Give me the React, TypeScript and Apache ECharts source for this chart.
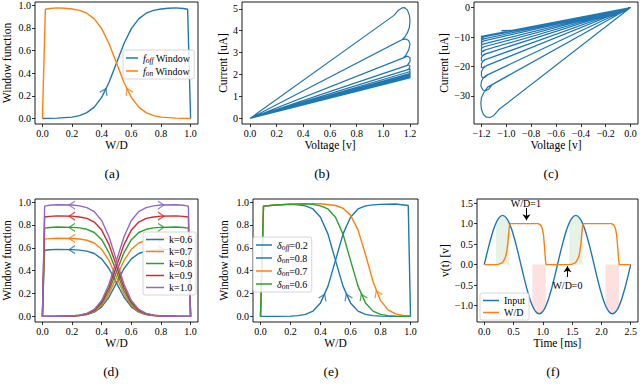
import React, { useEffect, useRef } from 'react';
import * as echarts from 'echarts';

const FONT = '"Liberation Serif", "DejaVu Serif", serif';
const BLUE = '#1f77b4';
const ORANGE = '#ff7f0e';
const GREEN = '#2ca02c';
const RED = '#d62728';
const PURPLE = '#9467bd';

// ---------- tick values ----------
const T01 = [0, 0.2, 0.4, 0.6, 0.8, 1.0];
const TB = [0, 0.2, 0.4, 0.6, 0.8, 1.0, 1.2];
const TC = [-1.2, -1.0, -0.8, -0.6, -0.4, -0.2, 0];
const TF = [0, 0.5, 1, 1.5, 2, 2.5];
const YB = [0, 1, 2, 3, 4, 5];
const YC = [-30, -20, -10, 0];
const YF = [-1, -0.5, 0, 0.5, 1, 1.5];

// ---------- (a) ----------
const aOffX = [0, 0.1, 0.2, 0.25, 0.3, 0.35, 0.4, 0.45, 0.5, 0.55, 0.6, 0.65, 0.7, 0.75, 0.8, 0.85, 0.9, 0.95, 0.98, 1.0];
const aOffY = [0, 0.003, 0.012, 0.025, 0.051, 0.1, 0.186, 0.32, 0.49, 0.66, 0.794, 0.88, 0.93, 0.955, 0.967, 0.974, 0.977, 0.972, 0.965, 0];
const aOnX = [0, 0.02, 0.05, 0.1, 0.15, 0.2, 0.25, 0.3, 0.35, 0.4, 0.45, 0.5, 0.55, 0.6, 0.65, 0.7, 0.75, 0.8, 0.9, 1.0];
const aOnY = [0, 0.965, 0.972, 0.977, 0.974, 0.967, 0.955, 0.93, 0.88, 0.794, 0.66, 0.49, 0.32, 0.186, 0.1, 0.051, 0.025, 0.012, 0.003, 0];
const aArrowX = [0.42, 0.58];
const aArrowY = [0.24, 0.24];

// ---------- (b) positive I-V loops ----------
const ivPos = [
  [0, 0], [1.08, 4.7], [1.11, 4.92], [1.14, 5.04], [1.16, 5.05], [1.18, 4.95], [1.195, 4.72], [1.2, 4.45], [1.195, 4.15], [1.18, 3.9], [1.16, 3.7], [1.14, 3.59], [0, 0],
  [1.12, 3.53], [1.15, 3.61], [1.17, 3.62], [1.19, 3.55], [1.2, 3.38], [1.19, 3.12], [1.17, 2.9], [1.15, 2.76], [0, 0],
  [1.15, 2.76], [1.18, 2.84], [1.2, 2.78], [1.2, 2.6], [1.18, 2.42], [0, 0],
  [1.17, 2.4], [1.19, 2.44], [1.2, 2.38], [1.19, 2.24], [0, 0],
  [1.18, 2.22], [1.2, 2.25], [1.2, 2.17], [1.19, 2.12], [0, 0],
  [1.19, 2.12], [1.2, 2.14], [1.2, 2.07], [1.19, 2.03], [0, 0],
  [1.19, 2.03], [1.2, 2.06], [1.2, 2.0], [1.19, 1.98], [0, 0],
  [1.19, 1.98], [1.2, 2.0], [1.2, 1.95], [1.19, 1.93], [0, 0],
  [1.19, 1.93], [1.2, 1.95], [1.2, 1.9], [1.19, 1.88], [0, 0],
  [1.19, 1.88], [1.2, 1.9], [1.2, 1.86], [1.19, 1.84], [0, 0],
];

// ---------- (c) negative I-V loops ----------
const ivNeg = [
  [0, 0], [-1.06, -34.6], [-1.1, -36.6], [-1.13, -37.3], [-1.16, -37.2], [-1.185, -36.2], [-1.2, -34.5], [-1.205, -32.5], [-1.2, -30.5], [-1.18, -28.8], [-1.15, -27.0], [0, 0],
  [-1.11, -26.0], [-1.14, -27.6], [-1.17, -28.3], [-1.19, -27.9], [-1.205, -26.6], [-1.2, -25.0], [-1.18, -23.6], [-1.16, -23.0], [0, 0],
  [-1.15, -22.8], [-1.17, -23.6], [-1.19, -23.9], [-1.2, -23.2], [-1.2, -21.8], [-1.18, -20.1], [0, 0],
  [-1.16, -19.7], [-1.18, -20.4], [-1.2, -20.4], [-1.2, -19.0], [-1.18, -17.8], [0, 0],
  [-1.17, -17.7], [-1.19, -18.3], [-1.2, -17.9], [-1.2, -16.9], [-1.18, -15.9], [0, 0],
  [-1.17, -15.8], [-1.19, -16.4], [-1.2, -16.0], [-1.2, -15.1], [-1.18, -14.5], [0, 0],
  [-1.17, -14.4], [-1.19, -15.0], [-1.2, -14.6], [-1.2, -13.8], [-1.18, -13.3], [0, 0],
  [-1.18, -13.3], [-1.19, -13.7], [-1.2, -13.4], [-1.2, -12.7], [-1.18, -12.3], [0, 0],
  [-1.18, -12.3], [-1.19, -12.6], [-1.2, -12.3], [-1.2, -11.7], [-1.18, -11.3], [0, 0],
  [-1.18, -11.3], [-1.19, -11.7], [-1.2, -11.4], [-1.2, -10.9], [-1.18, -10.6], [0, 0],
  [-1.18, -10.6], [-1.19, -10.9], [-1.2, -10.7], [-1.2, -10.2], [-1.18, -10.0], [0, 0],
  [-1.18, -10.0], [-1.19, -10.3], [-1.2, -10.1], [-1.2, -9.7], [-1.18, -9.6], [0, 0],
  [-0.94, -7.7], [-1.04, -7.8],
];

// ---------- (d) ----------
const dOnX = [0, 0.015, 0.05, 0.1, 0.2, 0.25, 0.3, 0.35, 0.4, 0.45, 0.5, 0.55, 0.6, 0.65, 0.7, 0.75, 0.8, 0.9, 1.0];
const dOffX = [0, 0.1, 0.2, 0.25, 0.3, 0.35, 0.4, 0.45, 0.5, 0.55, 0.6, 0.65, 0.7, 0.75, 0.8, 0.9, 0.95, 0.985, 1.0];
const dOn06 = [0, 0.579, 0.583, 0.586, 0.584, 0.58, 0.571, 0.55, 0.503, 0.417, 0.293, 0.17, 0.083, 0.037, 0.016, 0.007, 0.002, 0.001, 0];
const dOn07 = [0, 0.676, 0.68, 0.684, 0.682, 0.677, 0.666, 0.642, 0.587, 0.487, 0.342, 0.198, 0.097, 0.043, 0.018, 0.008, 0.003, 0.001, 0];
const dOn08 = [0, 0.772, 0.778, 0.782, 0.779, 0.774, 0.762, 0.734, 0.671, 0.556, 0.391, 0.226, 0.111, 0.049, 0.021, 0.009, 0.003, 0.001, 0];
const dOn09 = [0, 0.869, 0.875, 0.879, 0.877, 0.87, 0.857, 0.825, 0.755, 0.626, 0.44, 0.255, 0.125, 0.055, 0.023, 0.01, 0.004, 0.001, 0];
const dOn10 = [0, 0.965, 0.972, 0.977, 0.974, 0.967, 0.952, 0.917, 0.839, 0.695, 0.489, 0.283, 0.139, 0.061, 0.026, 0.011, 0.004, 0.001, 0];
const dOff06 = [0, 0.001, 0.002, 0.007, 0.016, 0.037, 0.083, 0.17, 0.293, 0.417, 0.503, 0.55, 0.571, 0.58, 0.584, 0.586, 0.583, 0.579, 0];
const dOff07 = [0, 0.001, 0.003, 0.008, 0.018, 0.043, 0.097, 0.198, 0.342, 0.487, 0.587, 0.642, 0.666, 0.677, 0.682, 0.684, 0.68, 0.676, 0];
const dOff08 = [0, 0.001, 0.003, 0.009, 0.021, 0.049, 0.111, 0.226, 0.391, 0.556, 0.671, 0.734, 0.762, 0.774, 0.779, 0.782, 0.778, 0.772, 0];
const dOff09 = [0, 0.001, 0.004, 0.01, 0.023, 0.055, 0.125, 0.255, 0.44, 0.626, 0.755, 0.825, 0.857, 0.87, 0.877, 0.879, 0.875, 0.869, 0];
const dOff10 = [0, 0.001, 0.004, 0.011, 0.026, 0.061, 0.139, 0.283, 0.489, 0.695, 0.839, 0.917, 0.952, 0.967, 0.974, 0.977, 0.972, 0.965, 0];
const dArrowOnX = 0.2;
const dArrowOffX = 0.8;
const dArrowY = [0.584, 0.682, 0.779, 0.877, 0.974];

// ---------- (e) ----------
const eOffX = [0, 0.1, 0.2, 0.25, 0.3, 0.35, 0.4, 0.45, 0.5, 0.55, 0.6, 0.65, 0.7, 0.75, 0.8, 0.9, 0.985, 1.0];
const eOffY = [0, 0.0003, 0.0025, 0.0067, 0.018, 0.047, 0.118, 0.265, 0.49, 0.72, 0.867, 0.94, 0.967, 0.976, 0.98, 0.983, 0.97, 0];
const eOn8X = [0, 0.02, 0.1, 0.2, 0.25, 0.3, 0.35, 0.4, 0.45, 0.5, 0.55, 0.6, 0.65, 0.7, 0.75, 0.8, 0.9, 1.0];
const eOn8Y = [0, 0.965, 0.975, 0.98, 0.976, 0.967, 0.94, 0.867, 0.72, 0.49, 0.265, 0.118, 0.046, 0.018, 0.0067, 0.0025, 0.0003, 0];
const eOn7X = [0, 0.02, 0.1, 0.2, 0.3, 0.4, 0.5, 0.55, 0.6, 0.65, 0.7, 0.75, 0.8, 0.85, 0.9, 0.95, 1.0];
const eOn7Y = [0, 0.965, 0.975, 0.982, 0.985, 0.985, 0.97, 0.946, 0.886, 0.757, 0.54, 0.305, 0.14, 0.057, 0.022, 0.008, 0.003];
const eOn6X = [0, 0.02, 0.1, 0.2, 0.3, 0.35, 0.4, 0.45, 0.5, 0.55, 0.6, 0.65, 0.7, 0.75, 0.8, 0.85, 0.9, 1.0];
const eOn6Y = [0, 0.965, 0.975, 0.982, 0.984, 0.98, 0.967, 0.94, 0.867, 0.72, 0.49, 0.265, 0.118, 0.046, 0.018, 0.0067, 0.0025, 0.0003];
const eArrowX = [0.42, 0.58, 0.68, 0.78];
const eArrowY = [0.17, 0.17, 0.17, 0.2];

// ---------- (f) ----------
const sineT = [0, 0.0625, 0.125, 0.1875, 0.25, 0.3125, 0.375, 0.4375, 0.5, 0.5625, 0.625, 0.6875, 0.75, 0.8125, 0.875, 0.9375, 1.0, 1.0625, 1.125, 1.1875, 1.25,
  1.3125, 1.375, 1.4375, 1.5, 1.5625, 1.625, 1.6875, 1.75, 1.8125, 1.875, 1.9375, 2.0, 2.0625, 2.125, 2.1875, 2.25, 2.3125, 2.375, 2.4375, 2.5];
const sineV = [0, 0.371, 0.705, 0.971, 1.141, 1.2, 1.141, 0.971, 0.705, 0.371, 0, -0.371, -0.705, -0.971, -1.141, -1.2, -1.141, -0.971, -0.705, -0.371, 0,
  0.371, 0.705, 0.971, 1.141, 1.2, 1.141, 0.971, 0.705, 0.371, 0, -0.371, -0.705, -0.971, -1.141, -1.2, -1.141, -0.971, -0.705, -0.371, 0];
const wdT = [0, 0.2, 0.25, 0.3, 0.33, 0.36, 0.38, 0.4, 0.415, 0.43, 0.45, 0.92, 0.96, 0.99, 1.01, 1.03, 1.045, 1.055,
  1.45, 1.5, 1.55, 1.58, 1.61, 1.63, 1.65, 1.665, 1.68, 1.7, 2.17, 2.21, 2.24, 2.26, 2.28, 2.295, 2.305, 2.5];
const wdV = [0, 0, 0.01, 0.04, 0.09, 0.18, 0.3, 0.5, 0.75, 0.95, 1.0, 1.0, 0.97, 0.88, 0.73, 0.4, 0.1, 0,
  0, 0.01, 0.04, 0.09, 0.18, 0.3, 0.5, 0.75, 0.95, 1.0, 1.0, 0.97, 0.88, 0.73, 0.4, 0.1, 0, 0];
const green1T = [0.2, 0.25, 0.3, 0.3125, 0.35, 0.4, 0.43];
const green1V = [1.013, 1.141, 1.198, 1.2, 1.179, 1.086, 0.997];
const green2T = [1.45, 1.5, 1.55, 1.5625, 1.6, 1.65, 1.68];
const green2V = [1.013, 1.141, 1.198, 1.2, 1.179, 1.086, 0.997];
const pink1T = [0.82, 0.85, 0.9, 0.9375, 0.95, 1.0, 1.05];
const pink1V = [-0.993, -1.086, -1.179, -1.2, -1.198, -1.141, -1.013];
const pink2T = [2.07, 2.1, 2.15, 2.1875, 2.2, 2.25, 2.3];
const pink2V = [-0.993, -1.086, -1.179, -1.2, -1.198, -1.141, -1.013];
const annoWD1 = [0.71, 1.48];
const annoWD0 = [1.42, -0.52];
const arrowWD1 = [[0.72, 1.38], [0.72, 1.08]];
const arrowWD0 = [[1.42, -0.3], [1.42, -0.04]];

const pairs = (xs: number[], ys: number[]) => xs.map((x, i) => [x, ys[i]]);
const fmt1 = (v: number) => v.toFixed(1).replace('-', '\u2212');
const fmt0 = (v: number) => String(v).replace('-', '\u2212');
const CHEV = 'path://M0,10 L6,0 L12,10';

function mkAxis(gi: number, min: number, max: number, ticks: number[], fmt: (v: number) => string, name: string, gap: number) {
  return {
    type: 'value', gridIndex: gi, min, max, name, nameLocation: 'middle', nameGap: gap,
    nameTextStyle: { fontFamily: FONT, fontSize: 11.5, color: '#000' },
    axisLine: { show: false, onZero: false },
    splitLine: { show: false },
    axisTick: { show: true, inside: false, length: 3, customValues: ticks, lineStyle: { color: '#000', width: 0.8 } },
    axisLabel: { show: true, customValues: ticks, formatter: fmt, fontFamily: FONT, fontSize: 10, color: '#000', margin: 4 },
  };
}

function line(gi: number, name: string, color: string, data: number[][], extra: any = {}) {
  return {
    type: 'line', name, xAxisIndex: gi, yAxisIndex: gi, data, color,
    symbol: 'none', showSymbol: false, lineStyle: { width: 1.4, color }, silent: true, z: 3, ...extra,
  };
}

function arrows(gi: number, items: { v: number[]; rot: number; c: string }[]) {
  return {
    type: 'scatter', xAxisIndex: gi, yAxisIndex: gi, symbol: CHEV, symbolSize: [8, 6], silent: true, z: 4,
    itemStyle: { color: 'transparent', borderWidth: 1.2 },
    data: items.map((it) => ({ value: it.v, symbolRotate: it.rot, itemStyle: { color: 'transparent', borderColor: it.c, borderWidth: 1.2 } })),
  };
}

function shade(data: number[][], color: string) {
  return {
    type: 'line', xAxisIndex: 5, yAxisIndex: 5, data, symbol: 'none', showSymbol: false, silent: true, z: 1,
    lineStyle: { width: 0, opacity: 0 }, areaStyle: { color, origin: 'auto', opacity: 1 },
  };
}

const RICH = {
  i: { fontStyle: 'italic', fontFamily: FONT, fontSize: 10, lineHeight: 11, color: '#000' },
  s: { fontStyle: 'italic', fontFamily: FONT, fontSize: 7.5, lineHeight: 11, padding: [4, 0, 0, 0], color: '#000' },
};
const LABELS: Record<string, string> = {
  'f_off Window': '{i|f}{s|off} Window',
  'f_on Window': '{i|f}{s|on} Window',
  'doff=0.2': '{i|\u03b4}{s|off}=0.2',
  'don=0.8': '{i|\u03b4}{s|on}=0.8',
  'don=0.7': '{i|\u03b4}{s|on}=0.7',
  'don=0.6': '{i|\u03b4}{s|on}=0.6',
};

function legend(data: string[], left: number, top: number, itemWidth: number) {
  return {
    data, left, top, orient: 'vertical', icon: 'rect', itemWidth, itemHeight: 1.5, itemGap: 1, itemTextGap: 6,
    padding: [2, 4, 2, 3], backgroundColor: 'rgba(255,255,255,0.85)', borderColor: '#cccccc', borderWidth: 0.8, borderRadius: 2,
    selectedMode: false, z: 10,
    formatter: (n: string) => LABELS[n] || n,
    textStyle: { fontFamily: FONT, fontSize: 10, color: '#000', lineHeight: 11, rich: RICH },
  };
}

function buildOption(): any {
  const grids = [
    { left: 32, top: 2, width: 166, height: 122 },
    { left: 242, top: 2, width: 176, height: 122 },
    { left: 474, top: 2, width: 164, height: 122 },
    { left: 32, top: 199, width: 166, height: 123 },
    { left: 253, top: 199, width: 165, height: 123 },
    { left: 477, top: 199, width: 161, height: 123 },
  ].map((g) => ({ ...g, show: true, borderColor: '#000', borderWidth: 0.9, backgroundColor: 'transparent', containLabel: false }));

  const xAxis = [
    mkAxis(0, -0.05, 1.05, T01, fmt1, 'W/D', 15),
    mkAxis(1, -0.06, 1.26, TB, fmt1, 'Voltage [v]', 15),
    mkAxis(2, -1.26, 0.06, TC, fmt1, 'Voltage [v]', 15),
    mkAxis(3, -0.05, 1.05, T01, fmt1, 'W/D', 15),
    mkAxis(4, -0.05, 1.05, T01, fmt1, 'W/D', 15),
    mkAxis(5, -0.125, 2.625, TF, fmt1, 'Time [ms]', 15),
  ];
  const yAxis = [
    mkAxis(0, -0.049, 1.029, T01, fmt1, 'Window function', 22),
    mkAxis(1, -0.253, 5.31, YB, fmt0, 'Current [uA]', 12),
    mkAxis(2, -39.5, 1.88, YC, fmt0, 'Current [uA]', 23),
    mkAxis(3, -0.049, 1.027, T01, fmt1, 'Window function', 22),
    mkAxis(4, -0.049, 1.027, T01, fmt1, 'Window function', 23),
    mkAxis(5, -1.4, 1.6, YF, fmt1, 'v(t) [v]', 25),
  ];

  const dCols = [BLUE, ORANGE, GREEN, RED, PURPLE];
  const dNames = ['k=0.6', 'k=0.7', 'k=0.8', 'k=0.9', 'k=1.0'];
  const dOns = [dOn06, dOn07, dOn08, dOn09, dOn10];
  const dOffs = [dOff06, dOff07, dOff08, dOff09, dOff10];

  const series: any[] = [
    line(0, 'f_off Window', BLUE, pairs(aOffX, aOffY)),
    line(0, 'f_on Window', ORANGE, pairs(aOnX, aOnY)),
    arrows(0, [
      { v: [aArrowX[0], aArrowY[0]], rot: -26, c: BLUE },
      { v: [aArrowX[1], aArrowY[1]], rot: 26, c: ORANGE },
    ]),
    line(1, 'iv+', BLUE, ivPos, { lineStyle: { width: 1.2, color: BLUE } }),
    line(2, 'iv-', BLUE, ivNeg, { lineStyle: { width: 1.2, color: BLUE } }),
  ];
  for (let i = 0; i < 5; i++) {
    series.push(line(3, dNames[i], dCols[i], pairs(dOffX, dOffs[i])));
    series.push(line(3, dNames[i], dCols[i], pairs(dOnX, dOns[i])));
  }
  series.push(arrows(3, dArrowY.flatMap((y, i) => [
    { v: [dArrowOnX, y], rot: 90, c: dCols[i] },
    { v: [dArrowOffX, y], rot: -90, c: dCols[i] },
  ])));
  series.push(line(4, 'doff=0.2', BLUE, pairs(eOffX, eOffY)));
  series.push(line(4, 'don=0.8', BLUE, pairs(eOn8X, eOn8Y)));
  series.push(line(4, 'don=0.7', ORANGE, pairs(eOn7X, eOn7Y)));
  series.push(line(4, 'don=0.6', GREEN, pairs(eOn6X, eOn6Y)));
  series.push(arrows(4, [
    { v: [eArrowX[0], eArrowY[0]], rot: -25, c: BLUE },
    { v: [eArrowX[1], eArrowY[1]], rot: 25, c: BLUE },
    { v: [eArrowX[2], eArrowY[2]], rot: 25, c: GREEN },
    { v: [eArrowX[3], eArrowY[3]], rot: 25, c: ORANGE },
  ]));
  series.push(shade(pairs(green1T, green1V), 'rgba(0,128,0,0.1)'));
  series.push(shade(pairs(green2T, green2V), 'rgba(0,128,0,0.1)'));
  series.push(shade(pairs(pink1T, pink1V), 'rgba(255,0,0,0.12)'));
  series.push(shade(pairs(pink2T, pink2V), 'rgba(255,0,0,0.12)'));
  series.push(line(5, 'Input', BLUE, pairs(sineT, sineV), { smooth: true }));
  series.push(line(5, 'W/D', ORANGE, pairs(wdT, wdV), {
    markLine: {
      silent: true, symbol: ['none', 'arrow'], symbolSize: 6, animation: false,
      lineStyle: { color: '#000', width: 1, type: 'solid' }, label: { show: false },
      data: [
        [{ coord: arrowWD1[0] }, { coord: arrowWD1[1] }],
        [{ coord: arrowWD0[0] }, { coord: arrowWD0[1] }],
      ],
    },
    markPoint: {
      silent: true, symbol: 'circle', symbolSize: 1, itemStyle: { color: 'rgba(0,0,0,0)' }, animation: false,
      label: { show: true, position: 'inside', formatter: (p: any) => p.name, fontFamily: FONT, fontSize: 10, color: '#000' },
      data: [
        { name: 'W/D=1', coord: annoWD1 },
        { name: 'W/D=0', coord: annoWD0 },
      ],
    },
  }));

  const caption = (text: string, x: number, y: number) => ({
    type: 'text', x, y, silent: true,
    style: { text, fontFamily: FONT, fontSize: 13.5, fill: '#000', align: 'center', verticalAlign: 'middle' },
  });

  return {
    animation: false,
    backgroundColor: '#fff',
    grid: grids,
    xAxis,
    yAxis,
    legend: [
      legend(['f_off Window', 'f_on Window'], 123, 50, 12),
      legend(dNames, 143, 232, 18),
      legend(['doff=0.2', 'don=0.8', 'don=0.7', 'don=0.6'], 253, 237, 16),
      legend(['Input', 'W/D'], 480, 293, 16),
    ],
    series,
    graphic: [
      caption('(a)', 112, 173),
      caption('(b)', 322, 173),
      caption('(c)', 551, 173),
      caption('(d)', 111, 371),
      caption('(e)', 331, 371),
      caption('(f)', 553, 371),
    ],
  };
}

export default function App() {
  const ref = useRef<HTMLDivElement>(null);
  useEffect(() => {
    if (!ref.current) return;
    const chart = echarts.init(ref.current, null, { renderer: 'svg' });
    chart.setOption(buildOption());
    return () => chart.dispose();
  }, []);
  return <div ref={ref} style={{ position: 'fixed', left: 0, top: 0, width: 640, height: 392, background: '#fff' }} />;
}
